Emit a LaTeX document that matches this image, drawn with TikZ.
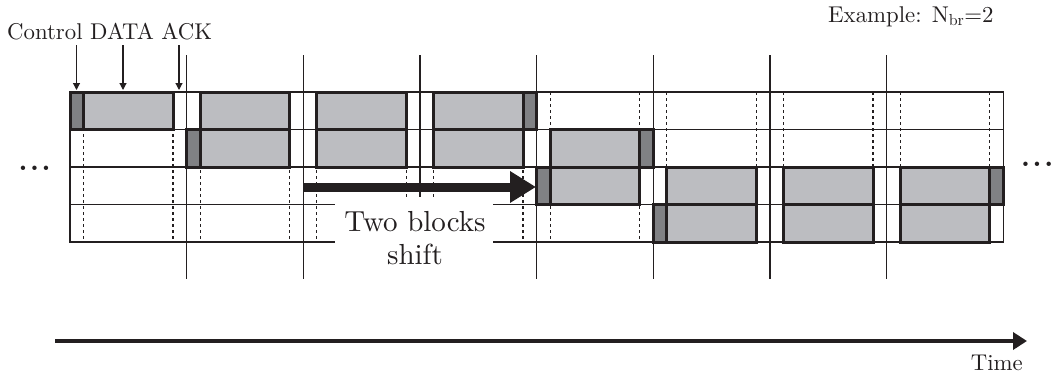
\documentclass[tikz,border=0pt]{standalone}
\usepackage{fontspec}
\setmainfont{lmroman10-regular}[Extension=.otf,BoldFont=lmroman10-bold]
\usetikzlibrary{arrows.meta}

\definecolor{ink}{RGB}{35,31,32}
\definecolor{datafill}{RGB}{188,189,193}
\definecolor{ctrlfill}{RGB}{128,129,132}

% slot geometry: slot k starts at 70 + 116.667 k, rows are 37.5 high from y = 92
\newcommand{\slotx}[1]{(70+116.667*(#1))}
\newcommand{\rowy}[1]{(92+37.5*(#1))}

\begin{document}
\begin{tikzpicture}[x=1pt,y=-1pt,
  gridline/.style={draw=ink,line width=1.3pt},
  slotline/.style={draw=ink,line width=1.3pt},
  guide/.style={draw=ink,line width=1.3pt,dash pattern=on 3pt off 3pt},
  datacell/.style={draw=ink,line width=3pt,fill=datafill},
  ctrlcell/.style={draw=ink,line width=3pt,fill=ctrlfill},
  lbl/.style={inner sep=0pt,text=ink,font=\fontsize{22.8}{27}\selectfont},
  biglbl/.style={inner sep=0pt,text=ink,font=\fontsize{29}{34}\selectfont},
  dotlbl/.style={inner sep=0pt,text=ink,font=\fontsize{28}{32}\selectfont\bfseries},
  pointer/.style={draw=ink,line width=1.2pt,-{Triangle[length=7pt,width=7pt]}},
  shiftarrow/.style={draw=ink,line width=9pt,-{Triangle[length=26pt,width=30pt]}},
  timearrow/.style={draw=ink,line width=3.7pt,-{Triangle[length=14pt,width=17pt]}}
]
\useasboundingbox (0,0) rectangle (1052,378);

% dashed guides: end of control field and end of data field in every slot
\foreach \k in {0,...,7} {
  \draw[guide] ({\slotx{\k}+13.5},92) -- ({\slotx{\k}+13.5},242);
  \draw[guide] ({\slotx{\k}+103},92) -- ({\slotx{\k}+103},242);
}

% row lines and outer border
\foreach \r in {0,...,4}
  \draw[gridline] (69,{\rowy{\r}}) -- (1004,{\rowy{\r}});
\draw[gridline] (70,92) -- (70,242);
\draw[gridline] (1003.3,92) -- (1003.3,242);

% slot boundaries
\foreach \k in {1,...,7}
  \draw[slotline] ({\slotx{\k}},55) -- ({\slotx{\k}},279);

% data fields
\foreach \k/\r in {0/0,1/0,1/1,2/0,2/1,3/0,3/1,4/1,4/2,5/2,5/3,6/2,6/3,7/2,7/3}
  \draw[datacell] ({\slotx{\k}+13.5},{\rowy{\r}}) rectangle ({\slotx{\k}+103},{\rowy{\r+1}});
% control fields
\foreach \k/\r in {0/0,1/1,4/2,5/3}
  \draw[ctrlcell] ({\slotx{\k}},{\rowy{\r}}) rectangle ({\slotx{\k}+13.5},{\rowy{\r+1}});
% ACK fields
\foreach \k/\r in {3/0,4/1,7/2}
  \draw[ctrlcell] ({\slotx{\k}+103},{\rowy{\r}}) rectangle ({\slotx{\k}+116.667},{\rowy{\r+1}});

% block shift arrow
\coordinate (shiftA) at (303.3,187);
\coordinate (shiftB) at (536,187);
\draw[shiftarrow] (shiftA) -- (shiftB);

% label with white backing
\fill[white] (335,197) rectangle (493,286);
\node[biglbl,anchor=base] (twoblocks) at (415,231) {Two blocks};
\node[biglbl,anchor=base] (shift) at (415,264) {shift};

% field labels and their pointers
\node[lbl,anchor=base west] (fields) at (7,39) {Control DATA ACK};
\coordinate (pc0) at (76.5,45);   \coordinate (pc1) at (76.5,90);
\coordinate (pd0) at (123,45);    \coordinate (pd1) at (123,90);
\coordinate (pa0) at (179,45);    \coordinate (pa1) at (179,90);
\draw[pointer] (pc0) -- (pc1);
\draw[pointer] (pd0) -- (pd1);
\draw[pointer] (pa0) -- (pa1);

\node[lbl,anchor=base west] (example) at (828,22) {Example: N\textsubscript{br}=2};

% continuation marks
\node[dotlbl,anchor=base west] (ldots) at (18.5,170) {.\kern2.6pt.\kern2.6pt.};
\node[dotlbl,anchor=base west] (rdots) at (1021,166) {.\kern2.6pt.\kern2.6pt.\kern-4pt};

% time axis
\coordinate (t0) at (55,341);
\coordinate (t1) at (1027,341);
\draw[timearrow] (t0) -- (t1);
\node[lbl,anchor=base east] (time) at (1023,370) {Time};
\end{tikzpicture}
\end{document}
